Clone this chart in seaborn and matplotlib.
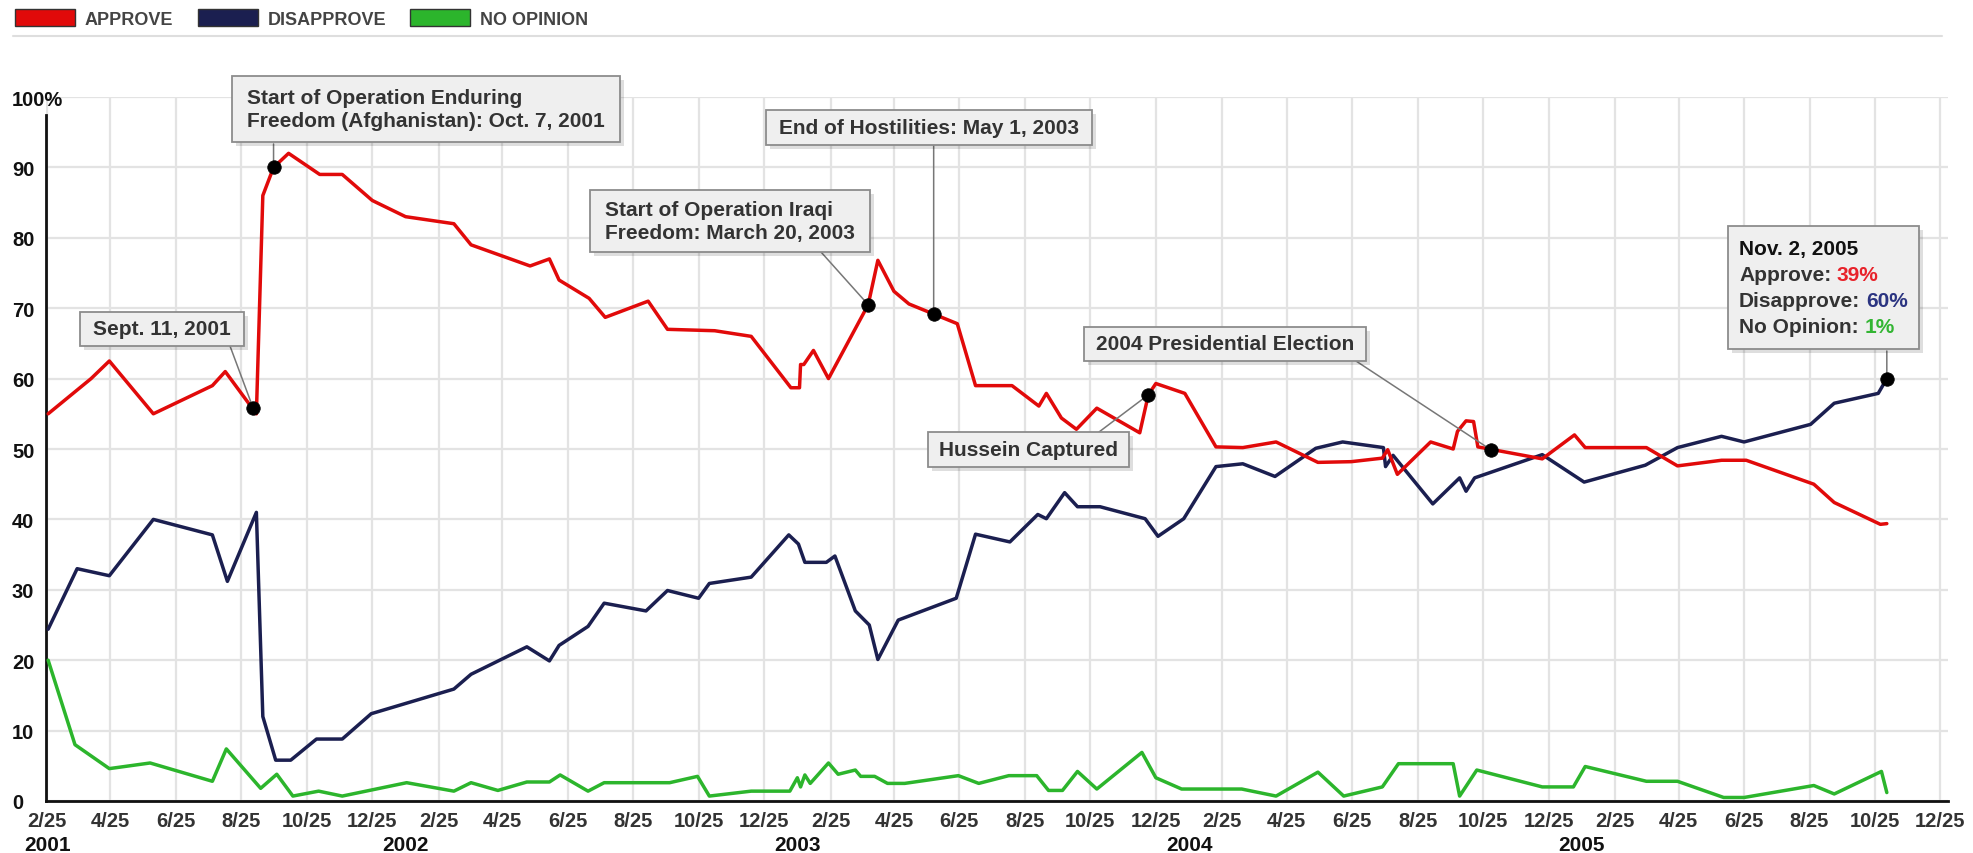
import matplotlib
matplotlib.use("Agg")
import matplotlib.pyplot as plt
import matplotlib.dates as mdates
import matplotlib.patheffects as pe
from matplotlib.patches import Patch
from matplotlib.lines import Line2D
from matplotlib.offsetbox import TextArea, HPacker, VPacker, AnnotationBbox, DrawingArea
import pandas as pd
import seaborn as sns

# ---------------- data ----------------
approve_dates = [
    "2001-02-26", "2001-04-07", "2001-04-24", "2001-06-04", "2001-07-29", "2001-08-10",
    "2001-09-08", "2001-09-14", "2001-09-24", "2001-10-08", "2001-11-06", "2001-11-27",
    "2001-12-25", "2002-01-25", "2002-03-11", "2002-03-27", "2002-05-21", "2002-06-08",
    "2002-06-17", "2002-07-15", "2002-07-30", "2002-09-08", "2002-09-26", "2002-11-09",
    "2002-12-13", "2003-01-19", "2003-01-27", "2003-01-28", "2003-01-31", "2003-02-09",
    "2003-02-23", "2003-04-01", "2003-04-10", "2003-04-25", "2003-05-09", "2003-06-23",
    "2003-07-10", "2003-08-13", "2003-09-07", "2003-09-14", "2003-09-28", "2003-10-12",
    "2003-10-31", "2003-12-10", "2003-12-18", "2003-12-25", "2004-01-21", "2004-02-19",
    "2004-03-15", "2004-04-15", "2004-05-24", "2004-06-24", "2004-07-23", "2004-07-28",
    "2004-08-06", "2004-09-06", "2004-09-27", "2004-10-01", "2004-10-09", "2004-10-16",
    "2004-10-20", "2004-12-19", "2005-01-18", "2005-01-28", "2005-03-26", "2005-04-24",
    "2005-06-04", "2005-06-27", "2005-08-29", "2005-09-17", "2005-10-30", "2005-11-05",
]
approve = [
    55, 60, 62.5, 55, 59, 61,
    55, 86, 90, 92, 89, 89,
    85.3, 83, 82, 79, 76, 77,
    74, 71.4, 68.7, 71, 67, 66.8,
    66, 58.7, 58.7, 62, 62, 64,
    60, 70.5, 76.8, 72.4, 70.6, 67.8,
    59, 59, 56.1, 57.9, 54.4, 52.8,
    55.8, 52.3, 57.7, 59.3, 57.9, 50.3,
    50.2, 51, 48.1, 48.2, 48.7, 49.9,
    46.4, 51, 50, 52.5, 54, 53.9,
    50.3, 48.6, 52, 50.2, 50.2, 47.6,
    48.4, 48.4, 45, 42.4, 39.3, 39.4,
]

disapprove_dates = [
    "2001-02-26", "2001-03-25", "2001-04-24", "2001-06-04", "2001-07-29", "2001-08-12",
    "2001-09-08", "2001-09-14", "2001-09-26", "2001-10-10", "2001-11-03", "2001-11-27",
    "2001-12-24", "2002-03-11", "2002-03-27", "2002-05-18", "2002-06-08", "2002-06-17",
    "2002-07-14", "2002-07-29", "2002-09-06", "2002-09-26", "2002-10-25", "2002-11-04",
    "2002-12-13", "2003-01-17", "2003-01-26", "2003-02-01", "2003-02-21", "2003-03-01",
    "2003-03-20", "2003-04-02", "2003-04-10", "2003-04-29", "2003-06-22", "2003-07-10",
    "2003-08-11", "2003-09-06", "2003-09-14", "2003-10-01", "2003-10-13", "2003-11-03",
    "2003-12-15", "2003-12-27", "2004-01-20", "2004-02-19", "2004-03-15", "2004-04-14",
    "2004-05-22", "2004-06-16", "2004-07-24", "2004-07-26", "2004-08-02", "2004-09-08",
    "2004-10-03", "2004-10-09", "2004-10-17", "2004-12-19", "2005-01-27", "2005-03-25",
    "2005-04-24", "2005-06-04", "2005-06-25", "2005-08-26", "2005-09-17", "2005-10-28",
    "2005-11-05",
]
disapprove = [
    24.4, 33, 32, 40, 37.8, 31.2,
    41, 12, 5.8, 5.8, 8.8, 8.8,
    12.4, 15.9, 18, 21.9, 19.9, 22.1,
    24.8, 28.1, 27, 29.9, 28.8, 30.9,
    31.8, 37.8, 36.5, 33.9, 33.9, 34.8,
    27, 25, 20.1, 25.7, 28.8, 37.9,
    36.8, 40.7, 40.1, 43.8, 41.8, 41.8,
    40.1, 37.6, 40.1, 47.5, 47.9, 46.1,
    50.1, 51, 50.2, 47.5, 49.1, 42.2,
    45.9, 44, 45.9, 49.2, 45.3, 47.7,
    50.2, 51.8, 51, 53.5, 56.5, 57.9,
    60,
]

no_opinion_dates = [
    "2001-02-26", "2001-03-23", "2001-04-24", "2001-06-01", "2001-07-29", "2001-08-11",
    "2001-09-12", "2001-09-27", "2001-10-12", "2001-11-05", "2001-11-27", "2002-01-26",
    "2002-03-11", "2002-03-27", "2002-04-21", "2002-05-18", "2002-06-08", "2002-06-18",
    "2002-07-14", "2002-07-29", "2002-09-28", "2002-10-24", "2002-11-04", "2002-12-13",
    "2003-01-18", "2003-01-25", "2003-01-28", "2003-02-01", "2003-02-06", "2003-02-23",
    "2003-03-04", "2003-03-20", "2003-03-25", "2003-04-07", "2003-04-19", "2003-05-05",
    "2003-06-24", "2003-07-13", "2003-08-10", "2003-09-05", "2003-09-16", "2003-09-29",
    "2003-10-13", "2003-10-31", "2003-12-12", "2003-12-25", "2004-01-18", "2004-03-14",
    "2004-04-15", "2004-05-24", "2004-06-17", "2004-07-23", "2004-08-07", "2004-09-27",
    "2004-10-03", "2004-10-19", "2004-12-19", "2005-01-17", "2005-01-28", "2005-03-26",
    "2005-04-24", "2005-06-06", "2005-06-25", "2005-08-29", "2005-09-17", "2005-10-31",
    "2005-11-05",
]
no_opinion = [
    20, 8, 4.6, 5.4, 2.8, 7.4,
    1.8, 3.8, 0.7, 1.4, 0.7, 2.6,
    1.4, 2.6, 1.5, 2.7, 2.7, 3.7,
    1.4, 2.6, 2.6, 3.5, 0.7, 1.4,
    1.4, 3.3, 2.0, 3.7, 2.5, 5.4,
    3.8, 4.4, 3.5, 3.5, 2.5, 2.5,
    3.6, 2.5, 3.6, 3.6, 1.5, 1.5,
    4.2, 1.7, 6.9, 3.3, 1.7, 1.7,
    0.7, 4.1, 0.7, 2.0, 5.3, 5.3,
    0.7, 4.4, 2.0, 2.0, 4.9, 2.8,
    2.8, 0.5, 0.5, 2.2, 1.0, 4.2,
    1.2,
]

series_names = ["APPROVE", "DISAPPROVE", "NO OPINION"]

event_labels = [
    "Sept. 11, 2001",
    "Start of Operation Enduring\nFreedom (Afghanistan): Oct. 7, 2001",
    "Start of Operation Iraqi\nFreedom: March 20, 2003",
    "End of Hostilities: May 1, 2003",
    "Hussein Captured",
    "2004 Presidential Election",
    "Nov. 2, 2005",
]
event_dates = ["2001-09-05", "2001-09-24", "2003-04-01", "2003-06-01",
               "2003-12-18", "2004-11-01", "2005-11-05"]
event_values = [55.8, 90, 70.5, 69.2, 57.7, 49.9, 60]

last_poll_labels = ["Approve:", "Disapprove:", "No Opinion:"]
last_poll_values = ["39%", "60%", "1%"]

year_labels = ["2001", "2002", "2003", "2004", "2005"]
year_label_dates = ["2001-02-25", "2002-01-25", "2003-01-25", "2004-01-25", "2005-01-25"]
y_tick_values = [0, 10, 20, 30, 40, 50, 60, 70, 80, 90, 100]
y_tick_labels = ["0", "10", "20", "30", "40", "50", "60", "70", "80", "90", "100%"]

# ---------------- style ----------------
C_APP = "#e10a0a"
C_DIS = "#1b1f50"
C_NO = "#2cb52c"
C_VAL = ["#e8222a", "#2b3481", "#33b533"]

sns.set_theme(style="white")
plt.rcParams["font.family"] = ["Liberation Sans", "DejaVu Sans"]
plt.rcParams["font.weight"] = "bold"

W, H = 1973, 854
DPI = 100
fig = plt.figure(figsize=(W / DPI, H / DPI), dpi=DPI)
fig.patch.set_facecolor("white")
AX_L, AX_R, AX_B, AX_T = 46, 1948, 802, 98
ax = fig.add_axes([AX_L / W, 1 - AX_B / H, (AX_R - AX_L) / W, (AX_B - AX_T) / H])
ax.set_facecolor("white")

for dts, vals, col in [(no_opinion_dates, no_opinion, C_NO),
                       (disapprove_dates, disapprove, C_DIS),
                       (approve_dates, approve, C_APP)]:
    df = pd.DataFrame({"date": pd.to_datetime(dts), "value": vals})
    sns.lineplot(data=df, x="date", y="value", ax=ax, color=col, linewidth=2.5,
                 estimator=None, sort=False, legend=False, zorder=3)

ev = pd.DataFrame({"date": pd.to_datetime(event_dates), "value": event_values})
sns.scatterplot(data=ev, x="date", y="value", ax=ax, color="black", s=95,
                edgecolor="black", linewidth=0.5, zorder=6, legend=False)

ax.set_xlim(pd.Timestamp("2001-02-24"), pd.Timestamp("2006-01-01"))
ax.set_ylim(0, 100)
tick_dates = pd.date_range("2001-02-25", "2005-12-25", freq=pd.DateOffset(months=2))
ax.set_xticks(tick_dates)
ax.set_xticklabels([f"{d.month}/{d.day}" for d in tick_dates])
ax.set_yticks(y_tick_values)
ax.set_yticklabels(y_tick_labels)
ax.set_xlabel("")
ax.set_ylabel("")
ax.grid(True, color="#e3e3e3", lw=1.6)
ax.set_axisbelow(True)
ax.tick_params(axis="both", length=0)
ax.tick_params(axis="y", pad=24.5, labelsize=14.5, labelcolor="#111111")
ax.tick_params(axis="x", pad=7, labelsize=14.5, labelcolor="#333333")
for lbl in ax.get_yticklabels():
    lbl.set_ha("left")
for s in ["top", "right"]:
    ax.spines[s].set_visible(False)
for s in ["left", "bottom"]:
    ax.spines[s].set_color("#111111")
    ax.spines[s].set_linewidth(2)
ax.spines["left"].set_bounds(0, 97.5)

for d, lab in zip(year_label_dates, year_labels):
    ax.text(pd.Timestamp(d), -0.0625, lab, transform=ax.get_xaxis_transform(),
            ha="center", va="center", fontsize=15, color="#111111", fontweight="bold")

# ---------------- annotations ----------------
PX2PT = 72 / DPI
ANN_FS = 15
SHADOW = [pe.withSimplePatchShadow(offset=(3, -3), shadow_rgbFace="black", alpha=0.13)]
TP = dict(fontsize=ANN_FS, fontweight="bold", color="#333333")

# box top-left (image px), leader start (image px; None x = vertical leader),
# horizontal padding, vertical padding, gap between text lines (all px)
box_layout = [
    ((80, 313), (230, 347), 13, 7.5, 0),
    ((232, 77), (None, 145), 15, 12, 3.7),
    ((590, 191), (821, 253), 15, 10, 3.7),
    ((766, 111), (None, 146), 13, 8, 0),
    ((928, 433), (1099, 433), 11, 8, 0),
    ((1084, 328), (1356, 362), 12, 7.5, 0),
    ((1728, 227), (None, 352), 11, 13.5, 6.7),
]
LEADER = dict(arrowstyle="-", color="#777777", lw=1.1, shrinkA=0, shrinkB=0)


def vspace(px):
    return DrawingArea(0, px * PX2PT)


def hspace(px):
    return DrawingArea(px * PX2PT, 0)


for i, (lab, d, v) in enumerate(zip(event_labels, event_dates, event_values)):
    (bx, by), (lx, ly), padx, pady, gap = box_layout[i]
    xd = mdates.date2num(pd.Timestamp(d))
    if lx is None:
        ax.annotate("", xy=(xd, v), xytext=(xd, H - ly), textcoords=("data", "figure pixels"),
                    arrowprops=LEADER, zorder=4)
    else:
        ax.annotate("", xy=(xd, v), xytext=(lx, H - ly), textcoords="figure pixels",
                    arrowprops=LEADER, zorder=4)

    if i < len(event_labels) - 1:
        rows = [TextArea(line, textprops=TP) for line in lab.split("\n")]
    else:
        rows = [TextArea(lab, textprops=dict(TP, color="#111111"))]
        for pl, pv, pc in zip(last_poll_labels, last_poll_values, C_VAL):
            rows.append(HPacker(children=[TextArea(pl, textprops=TP),
                                          TextArea(pv, textprops=dict(TP, color=pc))],
                                sep=4, pad=0, align="baseline"))
    children = [vspace(pady)]
    for j, r in enumerate(rows):
        if j:
            children.append(vspace(gap))
        children.append(r)
    children.append(vspace(pady))
    col = VPacker(children=children, align="left", sep=0, pad=0)
    box = HPacker(children=[hspace(padx), col, hspace(padx)], align="top", sep=0, pad=0)
    ab = AnnotationBbox(box, (bx, H - by), xycoords="figure pixels",
                        box_alignment=(0, 1), frameon=True, fontsize=ANN_FS, pad=0,
                        bboxprops=dict(boxstyle="square,pad=0", fc="#efefef", ec="#8c8c8c", lw=1.3),
                        zorder=10)
    ab.patch.set_path_effects(SHADOW)
    ax.add_artist(ab)

# ---------------- legend + separator ----------------
handles = [Patch(fc=c, ec="#333333", lw=1) for c in [C_APP, C_DIS, C_NO]]
LEG_FS = 13
LEG_PX = LEG_FS * DPI / 72
leg = fig.legend(handles, series_names, loc="upper left", bbox_to_anchor=(15 / W, 1 - 10 / H),
                 ncol=3, frameon=False, handlelength=60 / LEG_PX, handleheight=20 / LEG_PX,
                 handletextpad=10 / LEG_PX, columnspacing=24 / LEG_PX, borderpad=0,
                 borderaxespad=0, prop=dict(size=LEG_FS, weight="bold"), labelcolor="#444444")
fig.add_artist(Line2D([13 / W, 1942 / W], [1 - 37 / H, 1 - 37 / H], color="#dedede", lw=1.5))

fig.savefig("out.png", dpi=DPI, facecolor="white")
